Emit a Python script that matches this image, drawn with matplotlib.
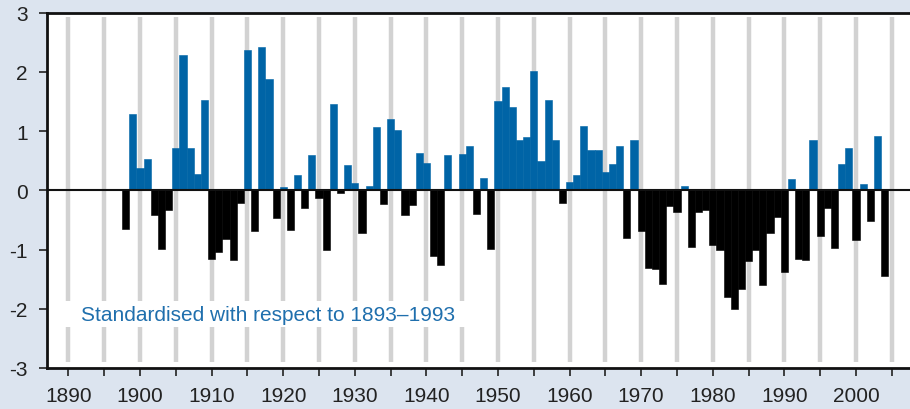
import numpy as np
import matplotlib
matplotlib.use("Agg")
import matplotlib.pyplot as plt
from matplotlib.patches import Rectangle

# 年份与标准化数值
years = list(range(1898, 2005))
values = [
    -0.65, 1.29, 0.37, 0.53, -0.42, -0.99, -0.33, 0.72, 2.28, 0.72,   # 1898-1907
    0.28, 1.53, -1.16, -1.05, -0.82, -1.18, -0.21, 2.36, -0.68, 2.41,  # 1908-1917
    1.87, -0.47, 0.05, -0.67, 0.26, -0.30, 0.60, -0.13, -1.00, 1.45,   # 1918-1927
    -0.05, 0.43, 0.12, -0.72, 0.07, 1.06, -0.23, 1.21, 1.01, -0.42,    # 1928-1937
    -0.25, 0.63, 0.46, -1.11, -1.27, 0.60, 0.00, 0.62, 0.75, -0.40,    # 1938-1947
    0.21, -0.99, 1.51, 1.75, 1.41, 0.85, 0.90, 2.01, 0.50, 1.53,       # 1948-1957
    0.85, -0.21, 0.14, 0.26, 1.09, 0.68, 0.68, 0.31, 0.45, 0.75,       # 1958-1967
    -0.81, 0.85, -0.69, -1.32, -1.33, -1.59, -0.27, -0.37, 0.07, -0.95,  # 1968-1977
    -0.37, -0.33, -0.93, -1.01, -1.81, -2.00, -1.67, -1.19, -1.01, -1.60,  # 1978-1987
    -0.72, -0.45, -1.38, 0.19, -1.16, -1.18, 0.84, -0.77, -0.30, -0.98,    # 1988-1997
    0.45, 0.72, -0.84, 0.11, -0.52, 0.92, -1.45,                          # 1998-2004
]
grid_years = list(range(1890, 2010, 5))
label_years = list(range(1890, 2010, 10))
note = "Standardised with respect to 1893\u20131993"

blue = "#0064a6"
bg = "#dce4ef"

plt.rcParams['font.family'] = ['Liberation Sans', 'DejaVu Sans']
plt.rcParams['axes.unicode_minus'] = False

fig = plt.figure(figsize=(9.1, 4.1), dpi=100, facecolor=bg)
ax = fig.add_axes([47 / 910, 1 - 369 / 410, 1 - 47 / 910, (369 - 13.5) / 410])
ax.set_facecolor("white")

# 灰色竖线
ax.vlines(grid_years, -2.9, 2.92, color="#d2d2d2", linewidth=3.2, zorder=1)
# 文字后面的白色遮挡
ax.add_patch(Rectangle((1888, -2.31), 59.2, 0.44, facecolor="white", edgecolor="none", zorder=1.5))

colors = [blue if v >= 0 else "black" for v in values]
ax.bar(years, values, width=1.0, color=colors, edgecolor=colors, linewidth=0.4, zorder=2)
ax.axhline(0, color="#111111", linewidth=1.5, zorder=3)

ax.text(1891.7, -2.1, note, color="#1f6fad", fontsize=15, va="center", ha="left", zorder=4)

ax.set_xlim(1887.0, 2007.55)
ax.set_ylim(-3, 3)
ax.set_xticks(grid_years)
ax.set_xticklabels([str(y) if y in label_years else "" for y in grid_years])
ax.set_yticks(range(-3, 4))
ax.set_yticklabels([str(v) for v in range(-3, 4)])

for s in ["left", "top", "bottom"]:
    ax.spines[s].set_linewidth(2.0)
    ax.spines[s].set_color("#111111")
ax.spines["right"].set_visible(False)
ax.tick_params(axis="both", direction="out", length=6, width=1.2, color="#222222",
               labelsize=15, labelcolor="#222222")
ax.tick_params(axis="x", pad=7)
ax.tick_params(axis="y", pad=8)

fig.savefig("out.png", dpi=100, facecolor=bg)
